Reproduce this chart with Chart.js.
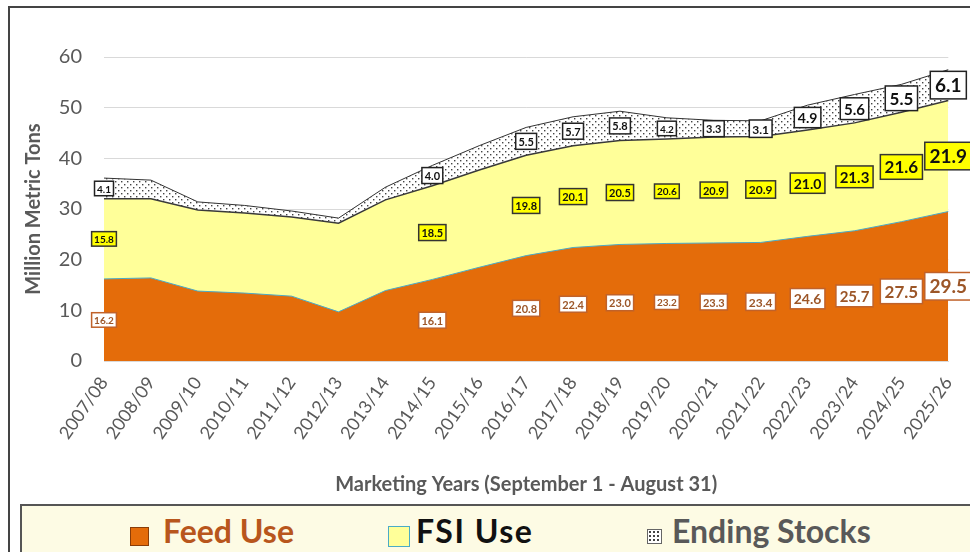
<!DOCTYPE html>
<html lang="en">
<head>
<meta charset="UTF-8">
<title>Feed, FSI Use and Ending Stocks</title>
<script src="https://cdn.jsdelivr.net/npm/chart.js"></script>
<style>
  * { margin: 0; padding: 0; box-sizing: border-box; }
  body { width: 970px; height: 552px; overflow: hidden; background: #fff; position: relative; font-family: Lato, 'Open Sans', sans-serif; }
  .frame { position: absolute; left: 8px; top: 6px; width: 1000px; height: 600px; border: 2px solid #444; }
  .wrap { position: absolute; left: 0; top: 0; width: 970px; height: 552px; }
  .legend { position: absolute; left: 20px; top: 504px; width: 1000px; height: 60px; background: #fdfbe4; border: 2px solid #555; }
  .item { position: absolute; top: 6px; font-weight: 700; font-size: 32px; line-height: 38px; display: flex; align-items: center; gap: 14px; }
  .box { width: 19px; height: 19px; margin-top: 10px; }
</style>
</head>
<body>
<div class="frame"></div>
<div class="wrap"><canvas id="chart" width="970" height="552"></canvas></div>
<div class="legend">
  <div class="item" style="left:108px; color:#b8561c;"><span class="box" style="background:#e46c0a; border:1px solid #8a3d08;"></span>Feed Use</div>
  <div class="item" style="left:366px; color:#111; gap:6px; letter-spacing:1.5px;"><span class="box" style="width:22px; height:21px; background:#ffff99; border:1.5px solid #4bacc6;"></span>FSI Use</div>
  <div class="item" style="left:625px; color:#595959; gap:10px;"><span class="box" id="stockBox" style="width:15px;height:15px;border:1px solid #666;"></span>Ending Stocks</div>
</div>

<script>
  const years = ['2007/08', '2008/09', '2009/10', '2010/11', '2011/12', '2012/13', '2013/14',
    '2014/15', '2015/16', '2016/17', '2017/18', '2018/19', '2019/20', '2020/21', '2021/22',
    '2022/23', '2023/24', '2024/25', '2025/26'];

  const feedUse = [16.2, 16.4, 13.8, 13.4, 12.8, 9.7, 13.9, 16.1, 18.5, 20.8, 22.4, 23.0, 23.2, 23.3, 23.4, 24.6, 25.7, 27.5, 29.5];
  const fsiUse = [15.8, 15.6, 16.0, 15.8, 15.6, 17.5, 17.9, 18.5, 19.2, 19.8, 20.1, 20.5, 20.6, 20.9, 20.9, 21.0, 21.3, 21.6, 21.9];
  const endingStocks = [4.1, 3.7, 1.6, 1.5, 1.2, 1.0, 2.5, 4.0, 4.8, 5.5, 5.7, 5.8, 4.2, 3.3, 3.1, 4.9, 5.6, 5.5, 6.1];

  const yTicks = [0, 10, 20, 30, 40, 50, 60];

  // years that carry a value label in the original
  const labeledYears = ['2007/08', '2014/15', '2016/17', '2017/18', '2018/19', '2019/20', '2020/21',
    '2021/22', '2022/23', '2023/24', '2024/25', '2025/26'];
  // label font size grows towards the projection years
  const labelFont = { '2007/08': 10, '2014/15': 11, '2016/17': 11, '2017/18': 11, '2018/19': 11,
    '2019/20': 10, '2020/21': 11, '2021/22': 12, '2022/23': 14, '2023/24': 15, '2024/25': 17, '2025/26': 19 };

  // dotted fill for Ending Stocks
  function dotPattern() {
    const c = document.createElement('canvas');
    c.width = 6; c.height = 6;
    const g = c.getContext('2d');
    g.fillStyle = '#ffffff';
    g.fillRect(0, 0, 6, 6);
    g.fillStyle = '#444';
    g.fillRect(1, 1, 1.4, 1.4);
    g.fillRect(4, 4, 1.4, 1.4);
    return g.createPattern(c, 'repeat');
  }
  const dots = dotPattern();
  const sb = document.getElementById('stockBox');
  sb.style.backgroundImage = 'radial-gradient(#444 0.8px, transparent 1px)';
  sb.style.backgroundSize = '4px 4px';
  sb.style.backgroundColor = '#fff';

  const labelStyles = [
    { fill: '#ffffff', stroke: '#c0622a', text: '#9c5628' },
    { fill: '#ffff00', stroke: '#333333', text: '#111111' },
    { fill: '#ffffff', stroke: '#222222', text: '#111111' }
  ];

  const valueLabels = {
    id: 'valueLabels',
    afterDatasetsDraw(chart) {
      const ctx = chart.ctx;
      const y = chart.scales.y;
      ctx.save();
      chart.data.datasets.forEach((ds, di) => {
        const meta = chart.getDatasetMeta(di);
        const st = labelStyles[di];
        labeledYears.forEach(yr => {
          const i = years.indexOf(yr);
          let base = 0;
          for (let k = 0; k < di; k++) base += chart.data.datasets[k].data[i];
          const v = ds.data[i];
          const px = meta.data[i].x;
          const py = y.getPixelForValue(base + v / 2);
          const size = labelFont[yr];
          ctx.font = `bold ${size}px Lato, sans-serif`;
          const txt = v.toFixed(1);
          const w = ctx.measureText(txt).width + size * 0.5;
          const h = size * 1.45;
          ctx.fillStyle = st.fill;
          ctx.fillRect(px - w / 2, py - h / 2, w, h);
          ctx.lineWidth = 1.5;
          ctx.strokeStyle = st.stroke;
          ctx.strokeRect(px - w / 2, py - h / 2, w, h);
          ctx.fillStyle = st.text;
          ctx.textAlign = 'center';
          ctx.textBaseline = 'middle';
          ctx.fillText(txt, px, py + 1);
        });
      });
      ctx.restore();
    }
  };

  new Chart(document.getElementById('chart'), {
    type: 'line',
    data: {
      labels: years,
      datasets: [
        { label: 'Feed Use', data: feedUse, fill: 'origin', backgroundColor: '#e46c0a', borderColor: '#4bacc6', borderWidth: 1 },
        { label: 'FSI Use', data: fsiUse, fill: '-1', backgroundColor: '#ffff99', borderColor: '#3a3a3a', borderWidth: 1.5 },
        { label: 'Ending Stocks', data: endingStocks, fill: '-1', backgroundColor: dots, borderColor: '#333333', borderWidth: 1 }
      ]
    },
    options: {
      responsive: false,
      animation: false,
      devicePixelRatio: 1,
      elements: { point: { radius: 0 }, line: { tension: 0 } },
      layout: { padding: { left: 14, top: 57, right: 18, bottom: 47 } },
      plugins: { legend: { display: false }, tooltip: { enabled: false } },
      scales: {
        x: {
          offset: false,
          grid: { display: false },
          border: { color: '#d9d9d9' },
          ticks: { color: '#595959', font: { family: 'Lato', size: 18 }, autoSkip: false, minRotation: 55, maxRotation: 55, padding: 4 },
          title: { display: true, text: 'Marketing Years (September 1 - August 31)', color: '#595959',
            font: { family: 'Lato', size: 20, weight: 'bold' }, padding: { top: 4, bottom: 8 } },
          afterFit(scale) { scale.height = 144; }
        },
        y: {
          stacked: true,
          min: 0,
          max: 60,
          afterBuildTicks(scale) { scale.ticks = yTicks.map(v => ({ value: v })); },
          grid: { color: '#d9d9d9', drawTicks: false },
          border: { display: false },
          ticks: { color: '#595959', font: { family: 'Lato', size: 20 }, padding: 22 },
          title: { display: true, text: 'Million Metric Tons', color: '#595959',
            font: { family: 'Lato', size: 20, weight: 'bold' }, padding: { top: 8, bottom: 0 } },
          afterFit(scale) { scale.width = 90; }
        }
      }
    },
    plugins: [valueLabels]
  });
</script>
</body>
</html>
